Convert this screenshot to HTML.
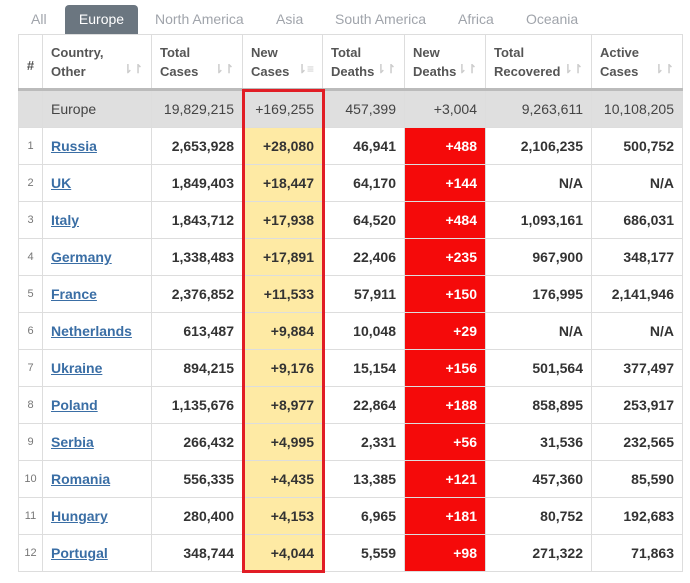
<!DOCTYPE html>
<html><head><meta charset="utf-8"><style>
body{margin:0;width:690px;height:583px;background:#fff;font-family:"Liberation Sans",Arial,sans-serif;position:relative;overflow:hidden}
.tabs{position:absolute;top:5px;left:0;height:29px;font-size:14px;color:#a0a4ab}
.tab{position:absolute;top:0;height:29px;line-height:29px;white-space:nowrap}
.tab.act{background:#6b7680;color:#fff;border-radius:4px 4px 0 0;text-align:center}
table{position:absolute;left:18px;top:34px;border-collapse:collapse;table-layout:fixed;width:664px}
td,th{border:1px solid #ddd;font-size:14px;padding:0 8px;color:#333;white-space:nowrap;box-sizing:border-box}
th{height:55px;text-align:left;font-size:13px;font-weight:bold;color:#555;vertical-align:top;padding-top:8px;line-height:19px;position:relative;border-bottom:3px solid #bbb}
th .s{position:absolute;right:8px;bottom:9px;color:#ccc;font-size:12px}
td{text-align:right;font-weight:bold;height:37px;line-height:16px}
td.n{text-align:center;font-size:11px;color:#777;font-weight:normal;padding:0}
td.c{text-align:left}
td.c a{color:#3a6ea5;text-decoration:underline}
tr.tot td{background:#dfdfdf;font-weight:normal;height:38px;color:#444}
td.y{background:#feeaa4}
td.r{background:#f50a0a;color:#fff}
.box{position:absolute;left:242px;top:89px;width:77px;height:478px;border:3px solid #e11d25}
</style></head><body>
<div class="tabs">
<div class="tab" style="left:31px">All</div>
<div class="tab act" style="left:65px;width:73px">Europe</div>
<div class="tab" style="left:155px">North America</div>
<div class="tab" style="left:276px">Asia</div>
<div class="tab" style="left:335px">South America</div>
<div class="tab" style="left:458px">Africa</div>
<div class="tab" style="left:526px">Oceania</div>
</div>
<table>
<colgroup><col style="width:24px"><col style="width:109px"><col style="width:91px"><col style="width:80px"><col style="width:82px"><col style="width:81px"><col style="width:106px"><col style="width:91px"></colgroup>
<tr><th style="text-align:center;padding:0;vertical-align:middle;padding-top:8px">#</th><th>Country,<br>Other<span class="s">⇂↾</span></th><th>Total<br>Cases<span class="s">⇂↾</span></th><th>New<br>Cases<span class="s">⇂≡</span></th><th>Total<br>Deaths<span class="s">⇂↾</span></th><th>New<br>Deaths<span class="s">⇂↾</span></th><th>Total<br>Recovered<span class="s">⇂↾</span></th><th>Active<br>Cases<span class="s">⇂↾</span></th></tr>
<tr class="tot"><td class="n"></td><td class="c">Europe</td><td>19,829,215</td><td>+169,255</td><td>457,399</td><td>+3,004</td><td>9,263,611</td><td>10,108,205</td></tr>
<tr><td class="n">1</td><td class="c"><a>Russia</a></td><td>2,653,928</td><td class="y">+28,080</td><td>46,941</td><td class="r">+488</td><td>2,106,235</td><td>500,752</td></tr>
<tr><td class="n">2</td><td class="c"><a>UK</a></td><td>1,849,403</td><td class="y">+18,447</td><td>64,170</td><td class="r">+144</td><td>N/A</td><td>N/A</td></tr>
<tr><td class="n">3</td><td class="c"><a>Italy</a></td><td>1,843,712</td><td class="y">+17,938</td><td>64,520</td><td class="r">+484</td><td>1,093,161</td><td>686,031</td></tr>
<tr><td class="n">4</td><td class="c"><a>Germany</a></td><td>1,338,483</td><td class="y">+17,891</td><td>22,406</td><td class="r">+235</td><td>967,900</td><td>348,177</td></tr>
<tr><td class="n">5</td><td class="c"><a>France</a></td><td>2,376,852</td><td class="y">+11,533</td><td>57,911</td><td class="r">+150</td><td>176,995</td><td>2,141,946</td></tr>
<tr><td class="n">6</td><td class="c"><a>Netherlands</a></td><td>613,487</td><td class="y">+9,884</td><td>10,048</td><td class="r">+29</td><td>N/A</td><td>N/A</td></tr>
<tr><td class="n">7</td><td class="c"><a>Ukraine</a></td><td>894,215</td><td class="y">+9,176</td><td>15,154</td><td class="r">+156</td><td>501,564</td><td>377,497</td></tr>
<tr><td class="n">8</td><td class="c"><a>Poland</a></td><td>1,135,676</td><td class="y">+8,977</td><td>22,864</td><td class="r">+188</td><td>858,895</td><td>253,917</td></tr>
<tr><td class="n">9</td><td class="c"><a>Serbia</a></td><td>266,432</td><td class="y">+4,995</td><td>2,331</td><td class="r">+56</td><td>31,536</td><td>232,565</td></tr>
<tr><td class="n">10</td><td class="c"><a>Romania</a></td><td>556,335</td><td class="y">+4,435</td><td>13,385</td><td class="r">+121</td><td>457,360</td><td>85,590</td></tr>
<tr><td class="n">11</td><td class="c"><a>Hungary</a></td><td>280,400</td><td class="y">+4,153</td><td>6,965</td><td class="r">+181</td><td>80,752</td><td>192,683</td></tr>
<tr><td class="n">12</td><td class="c"><a>Portugal</a></td><td>348,744</td><td class="y">+4,044</td><td>5,559</td><td class="r">+98</td><td>271,322</td><td>71,863</td></tr>
</table>
<div class="box"></div>
</body></html>
